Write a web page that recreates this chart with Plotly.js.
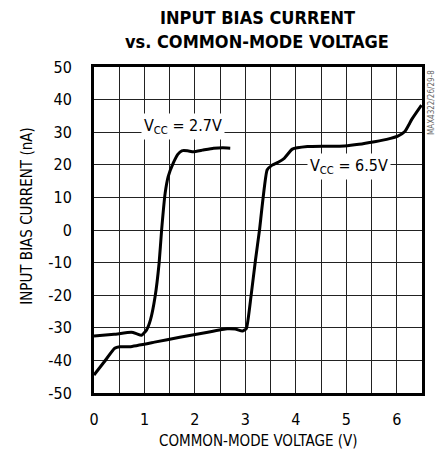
<!DOCTYPE html>
<html>
<head>
<meta charset="utf-8">
<script src="https://cdn.plot.ly/plotly-3.0.1.min.js"></script>
<style>html,body{margin:0;padding:0;background:#fff;}#chart{width:443px;height:455px;}
svg text{font-stretch:condensed !important;}</style>
</head>
<body>
<div id="chart"></div>
<script>
// VCC = 2.7V curve
const vcc27_x = [0, 0.40, 0.74, 0.84, 0.94, 1.04, 1.12, 1.21, 1.29, 1.34, 1.41, 1.47, 1.57, 1.66, 1.74, 1.85, 1.97, 2.15, 2.37, 2.55, 2.70];
const vcc27_y = [-32.5, -32.0, -31.4, -31.8, -32.3, -30.7, -27.5, -20.5, -10.2, 0, 11.3, 16.4, 20.5, 23.2, 24.3, 24.3, 24.0, 24.5, 25.1, 25.2, 25.1];
// VCC = 6.5V curve
const vcc65_x = [0, 0.20, 0.41, 0.51, 0.71, 1.20, 1.70, 2.20, 2.64, 2.80, 2.94, 3.02, 3.11, 3.20, 3.28, 3.43, 3.53, 3.65, 3.77, 3.93, 4.23, 4.60, 4.96, 5.25, 5.56, 5.80, 6.02, 6.16, 6.30, 6.49];
const vcc65_y = [-44.5, -40.5, -36.3, -35.8, -35.8, -34.4, -32.9, -31.5, -30.3, -30.4, -31.0, -30.2, -20.5, -9.2, 0, 18.4, 19.9, 20.8, 22.0, 24.8, 25.6, 25.7, 25.8, 26.3, 27.1, 27.8, 28.8, 30.2, 34.0, 38.3];
const xTicks = [0, 1, 2, 3, 4, 5, 6];
const yTicks = [-50, -40, -30, -20, -10, 0, 10, 20, 30, 40, 50];
const titleLines = ['INPUT BIAS CURRENT', 'vs. COMMON-MODE VOLTAGE'];
const xTitle = 'COMMON-MODE VOLTAGE (V)';
const yTitle = 'INPUT BIAS CURRENT (nA)';
const labels = [
  {text: 'V<sub>CC</sub> = 2.7V', x: 1.77, y: 31.9},
  {text: 'V<sub>CC</sub> = 6.5V', x: 5.05, y: 19.6}
];
const watermark = 'MAX4322/26/29-8';

const font = 'DejaVu Sans Condensed, DejaVu Sans, sans-serif';
const traces = [
  {x: vcc27_x, y: vcc27_y, mode: 'lines', line: {color: '#000', width: 3, shape: 'spline', smoothing: 0.4}, hoverinfo: 'skip'},
  {x: vcc65_x, y: vcc65_y, mode: 'lines', line: {color: '#000', width: 3, shape: 'spline', smoothing: 0.4}, hoverinfo: 'skip'}
];
const ann = (o) => Object.assign({xref: 'paper', yref: 'paper', showarrow: false, xanchor: 'center', yanchor: 'middle'}, o);
const layout = {
  width: 443, height: 455,
  margin: {l: 94, r: 21, t: 67, b: 62},
  paper_bgcolor: '#fff', plot_bgcolor: '#fff',
  showlegend: false,
  font: {family: font, color: '#000', size: 15},
  xaxis: {
    range: [0, 6.5], tickvals: xTicks, ticktext: xTicks.map(String),
    showgrid: true, gridcolor: '#222', gridwidth: 1,
    minor: {dtick: 0.5, showgrid: true, gridcolor: '#222', gridwidth: 1, ticks: ''},
    ticks: 'outside', ticklen: 0, ticklabelstandoff: 10,
    showline: true, linecolor: '#000', linewidth: 3, mirror: true,
    zeroline: false, tickfont: {size: 16}
  },
  yaxis: {
    range: [-50, 50], tickvals: yTicks, ticktext: yTicks.map(String),
    showgrid: true, gridcolor: '#222', gridwidth: 1,
    ticks: 'outside', ticklen: 0, ticklabelstandoff: 16,
    showline: true, linecolor: '#000', linewidth: 3, mirror: true,
    zeroline: false, tickfont: {size: 16}
  },
  annotations: labels.map(l => ({
    text: l.text, x: l.x, y: l.y, xref: 'x', yref: 'y', showarrow: false,
    bgcolor: '#fff', borderpad: 2, font: {size: 16, color: '#000'}
  })).concat([
    ann({text: '<b>' + titleLines[0] + '</b>', x: 0.498, y: 1.152, font: {size: 18}}),
    ann({text: '<b>' + titleLines[1] + '</b>', x: 0.498, y: 1.078, font: {size: 18}}),
    ann({text: xTitle, x: 0.5, y: -0.147, font: {size: 15}}),
    ann({text: yTitle, x: -0.205, y: 0.543, textangle: -90, font: {size: 15}}),
    ann({text: watermark, x: 1.0, y: 1.0, xanchor: 'left', yanchor: 'top', xshift: 3, yshift: -1,
         textangle: -90, font: {size: 8, color: '#666'}})
  ])
};
Plotly.newPlot('chart', traces, layout, {staticPlot: true, displayModeBar: false});
</script>
</body>
</html>
